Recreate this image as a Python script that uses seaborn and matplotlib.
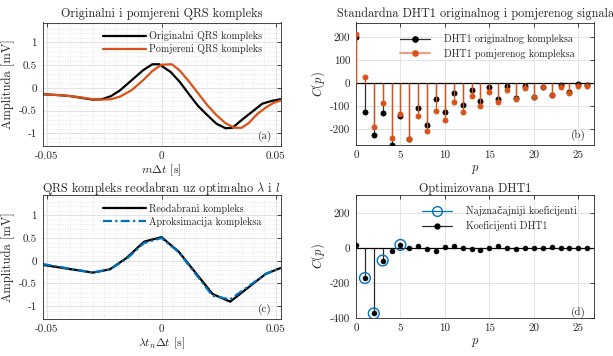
import numpy as np
import pandas as pd
import matplotlib
matplotlib.use("Agg")
import matplotlib.pyplot as plt
import seaborn as sns
from matplotlib.legend_handler import HandlerLine2D
from matplotlib.lines import Line2D
from matplotlib.ticker import MultipleLocator

# ---------------- data ----------------
t_orig = [-0.052, -0.045, -0.040, -0.035, -0.030, -0.026, -0.022, -0.018, -0.013, -0.008,
          -0.004, -0.001, 0.004, 0.008, 0.012, 0.016, 0.020, 0.024, 0.028, 0.031,
          0.035, 0.040, 0.044, 0.048, 0.052]
y_orig = [-0.14, -0.16, -0.18, -0.22, -0.26, -0.25, -0.18, -0.05, 0.17, 0.39,
          0.52, 0.52, 0.35, 0.13, -0.14, -0.40, -0.60, -0.79, -0.89, -0.88,
          -0.71, -0.51, -0.35, -0.29, -0.25]
t_shift = [-0.052, -0.045, -0.040, -0.035, -0.030, -0.026, -0.022, -0.018, -0.013, -0.008,
           -0.004, 0.000, 0.0045, 0.008, 0.012, 0.016, 0.020, 0.024, 0.028, 0.032,
           0.035, 0.038, 0.042, 0.046, 0.049, 0.052]
y_shift = [-0.14, -0.16, -0.18, -0.21, -0.25, -0.26, -0.25, -0.19, -0.05, 0.17,
           0.37, 0.51, 0.52, 0.38, 0.14, -0.12, -0.38, -0.60, -0.78, -0.88,
           -0.88, -0.78, -0.57, -0.42, -0.33, -0.28]

t_re = [-0.052, -0.030, -0.0226, -0.0153, -0.0076, 0.0, 0.0075, 0.0223, 0.030, 0.0455, 0.052]
y_re = [-0.09, -0.26, -0.19, 0.06, 0.42, 0.52, 0.20, -0.73, -0.90, -0.29, -0.16]
y_apx = [-0.07, -0.26, -0.19, 0.04, 0.39, 0.50, 0.19, -0.77, -0.85, -0.29, -0.16]

p = list(range(27))
C_orig = [200, -125, -225, -129, -266, -142, -240, -109, -180, -68, -124, -42, -93, -28,
          -76, -16, -70, -13, -64, -13, -57, -15, -50, -7, -36, -2, -9]
C_shift = [217, 30, -189, -84, -236, -131, -243, -140, -207, -119, -160, -83, -124, -54,
           -97, -36, -80, -29, -67, -20, -61, -16, -51, -16, -41, -10, -13]
C_opt = [15, -172, -374, -72, -15, 17, 2, 8, -8, -15, 4, 13, 0, -6, -11, 0, 8, 0, -5,
         0, 0, 0, 4, 0, 0, 0, 0]
sig_idx = [1, 2, 3, 5]

titles = ["Originalni i pomjereni QRS kompleks",
          "Standardna DHT1 originalnog i pomjerenog signala",
          r"QRS kompleks reodabran uz optimalno $\lambda$ i $l$",
          "Optimizovana DHT1"]
leg_a = ["Originalni QRS kompleks", "Pomjereni QRS kompleks"]
leg_b = ["DHT1 originalnog kompleksa", "DHT1 pomjerenog kompleksa"]
leg_c = ["Reodabrani kompleks", "Aproksimacija kompleksa"]
leg_d = ["Najznačajniji koeficijenti", "Koeficijenti DHT1"]
xt_time = [-0.05, 0, 0.05]
xt_time_lbl = ["-0.05", "0", "0.05"]
yt_amp = [-1, -0.5, 0, 0.5, 1]
yt_amp_lbl = ["-1", "-0.5", "0", "0.5", "1"]
xt_p = [0, 5, 10, 15, 20, 25]
yt_b = [-200, -100, 0, 100, 200]
yt_d = [-400, -200, 0, 200]

# ---------------- style ----------------
sns.set_theme(style="white")
plt.rcParams["font.family"] = ["cmr10", "DejaVu Serif"]
plt.rcParams["mathtext.fontset"] = "cm"
plt.rcParams["axes.unicode_minus"] = False
plt.rcParams["axes.formatter.use_mathtext"] = True

BLACK = "#000000"
ORANGE = "#D95319"
BLUE = "#0072BD"
W, H = 613, 356
TFS = 8.8
LFS = 7.25

fig = plt.figure(figsize=(W / 100, H / 100), dpi=100)


def add_ax(l, r, t, b):
    return fig.add_axes([l / W, 1 - b / H, (r - l) / W, (b - t) / H])


axA = add_ax(42.5, 280.5, 22.5, 145.5)
axB = add_ax(356, 594.3, 22.5, 145.0)
axC = add_ax(42.5, 280.5, 195.3, 318.5)
axD = add_ax(356, 594.3, 195.3, 318.0)


class EndMarkerHandler(HandlerLine2D):
    def get_xdata(self, legend, xdescent, ydescent, width, height, fontsize):
        xdata = np.array([-xdescent, -xdescent + width])
        return xdata, np.array([-xdescent + width])


def style_ax(ax, minor=False):
    for s in ax.spines.values():
        s.set_color("#262626")
        s.set_linewidth(0.6)
    ax.tick_params(axis="both", which="major", direction="in", length=3, width=0.6,
                   top=True, right=True, labelsize=8, pad=4, colors="#262626",
                   labelcolor="#262626")
    ax.tick_params(which="minor", length=0)
    ax.grid(True, which="major", color="#e3e3e3", linewidth=0.7, linestyle="-")
    if minor:
        ax.grid(True, which="minor", color="#d2d2d2", linewidth=0.5, linestyle=(0, (1, 2.5)))
    ax.set_axisbelow(True)


# ---------------- (a) ----------------
dfa1 = pd.DataFrame({"t": t_orig, "y": y_orig})
dfa2 = pd.DataFrame({"t": t_shift, "y": y_shift})
sns.lineplot(data=dfa1, x="t", y="y", ax=axA, color=BLACK, linewidth=1.6, label=leg_a[0])
sns.lineplot(data=dfa2, x="t", y="y", ax=axA, color=ORANGE, linewidth=1.6, label=leg_a[1])
axA.set_xlim(-0.052, 0.052)
axA.set_ylim(-1.27, 1.44)
axA.set_xticks(xt_time, xt_time_lbl)
axA.set_yticks(yt_amp, yt_amp_lbl)
axA.xaxis.set_minor_locator(MultipleLocator(0.005))
axA.yaxis.set_minor_locator(MultipleLocator(0.1))
style_ax(axA, minor=True)
axA.set_xlabel(r"$m\Delta t$ [s]", fontsize=8.6, labelpad=1.5)
axA.set_ylabel("Amplituda [mV]", fontsize=9, labelpad=3)
axA.set_title(titles[0], fontsize=TFS, pad=4)
axA.legend(loc="upper left", bbox_to_anchor=(0.254, 0.93), frameon=False, fontsize=LFS,
           handlelength=4.3, handletextpad=0.3, borderpad=0, borderaxespad=0,
           labelspacing=0.3)
axA.text(0.935, 0.075, "(a)", transform=axA.transAxes, fontsize=8, ha="center", va="center")

# ---------------- (b) ----------------
axB.axhline(0, color=BLACK, linewidth=0.9, zorder=2)
axB.vlines(p, 0, C_orig, color="#303030", linewidth=0.9, zorder=3)
sns.scatterplot(x=p, y=C_orig, ax=axB, color=BLACK, s=14, edgecolor=BLACK, linewidth=0.5, zorder=4)
axB.vlines(p, 0, C_shift, color=ORANGE, linewidth=0.9, zorder=5)
sns.scatterplot(x=p, y=C_shift, ax=axB, color=ORANGE, s=14, edgecolor=ORANGE, linewidth=0.5, zorder=6)
axB.set_xlim(0, 26.8)
axB.set_ylim(-268, 265)
axB.set_xticks(xt_p, [str(v) for v in xt_p])
axB.set_yticks(yt_b, [str(v) for v in yt_b])
style_ax(axB)
axB.set_xlabel(r"$p$", fontsize=9, labelpad=2)
axB.set_ylabel(r"$C(p)$", fontsize=9, labelpad=2)
axB.set_title(titles[1], fontsize=TFS, pad=4)
hb = [Line2D([], [], color="#303030", lw=0.9, marker="o", ms=3.8, mfc=BLACK, mec=BLACK),
      Line2D([], [], color="#eda07e", lw=1.5, marker="o", ms=3.8, mfc=ORANGE, mec=ORANGE)]
axB.legend(hb, leg_b, loc="upper left", bbox_to_anchor=(0.185, 0.905), frameon=False,
           fontsize=LFS, handlelength=3.0, handletextpad=1.4, borderpad=0, borderaxespad=0,
           labelspacing=0.45, handler_map={Line2D: EndMarkerHandler()})
axB.text(0.935, 0.075, "(b)", transform=axB.transAxes, fontsize=8, ha="center", va="center")

# ---------------- (c) ----------------
dfc1 = pd.DataFrame({"t": t_re, "y": y_re})
dfc2 = pd.DataFrame({"t": t_re, "y": y_apx})
sns.lineplot(data=dfc1, x="t", y="y", ax=axC, color=BLACK, linewidth=1.6, label=leg_c[0])
sns.lineplot(data=dfc2, x="t", y="y", ax=axC, color=BLUE, linewidth=1.6,
             linestyle=(0, (4, 1.5, 1, 1.5)), label=leg_c[1])
axC.set_xlim(-0.052, 0.052)
axC.set_ylim(-1.27, 1.44)
axC.set_xticks(xt_time, xt_time_lbl)
axC.set_yticks(yt_amp, yt_amp_lbl)
axC.xaxis.set_minor_locator(MultipleLocator(0.005))
axC.yaxis.set_minor_locator(MultipleLocator(0.1))
style_ax(axC, minor=True)
axC.set_xlabel(r"$\lambda t_n\Delta t$ [s]", fontsize=8.6, labelpad=1.5)
axC.set_ylabel("Amplituda [mV]", fontsize=9, labelpad=3)
axC.set_title(titles[2], fontsize=TFS, pad=2.5)
axC.legend(loc="upper left", bbox_to_anchor=(0.254, 0.93), frameon=False, fontsize=LFS,
           handlelength=4.3, handletextpad=0.3, borderpad=0, borderaxespad=0,
           labelspacing=0.3)
axC.text(0.935, 0.075, "(c)", transform=axC.transAxes, fontsize=8, ha="center", va="center")

# ---------------- (d) ----------------
axD.axhline(0, color=BLACK, linewidth=0.9, zorder=2)
axD.vlines(p, 0, C_opt, color="#2a2a2a", linewidth=0.9, zorder=3)
sns.scatterplot(x=p, y=C_opt, ax=axD, color=BLACK, s=12, edgecolor=BLACK, linewidth=0.5, zorder=5)
sig_p = [p[i] for i in sig_idx]
sig_c = [C_opt[i] for i in sig_idx]
sns.scatterplot(x=sig_p, y=sig_c, ax=axD, facecolor="none", edgecolor=BLUE, s=60,
                linewidth=1.0, zorder=4)
axD.set_xlim(0, 26.8)
axD.set_ylim(-400, 300)
axD.set_xticks(xt_p, [str(v) for v in xt_p])
axD.set_yticks(yt_d, [str(v) for v in yt_d])
style_ax(axD)
axD.set_xlabel(r"$p$", fontsize=9, labelpad=2)
axD.set_ylabel(r"$C(p)$", fontsize=9, labelpad=2)
axD.set_title(titles[3], fontsize=TFS, pad=2.5)
hd = [Line2D([], [], color=BLUE, lw=0.9, marker="o", ms=7, mfc="none", mec=BLUE),
      Line2D([], [], color="#2a2a2a", lw=0.9, marker="o", ms=3.5, mfc=BLACK, mec=BLACK)]
axD.legend(hd, leg_d, loc="upper left", bbox_to_anchor=(0.277, 0.91), frameon=False,
           fontsize=LFS, handlelength=3.0, handletextpad=1.4, borderpad=0, borderaxespad=0,
           labelspacing=0.5, handler_map={Line2D: EndMarkerHandler()})
axD.text(0.935, 0.05, "(d)", transform=axD.transAxes, fontsize=8, ha="center", va="center")

fig.savefig("out.png", dpi=100)
